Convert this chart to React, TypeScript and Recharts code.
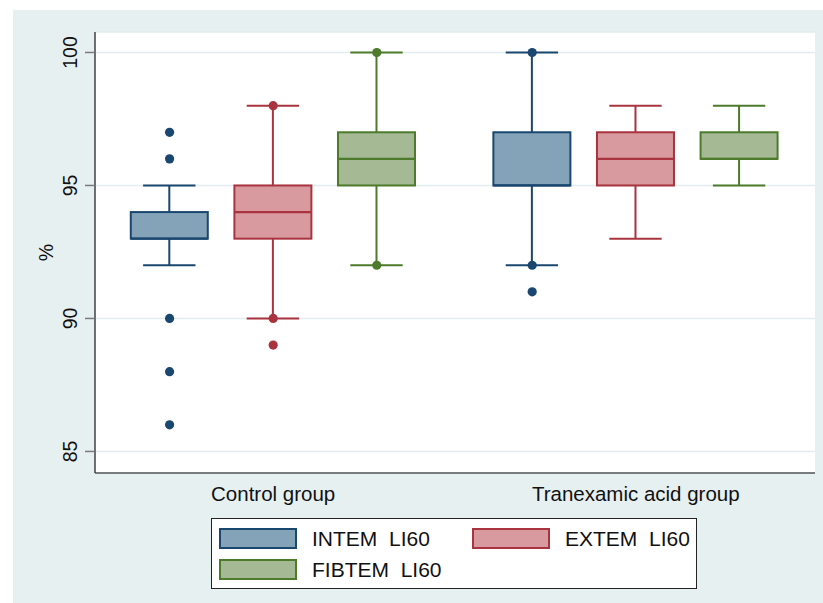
import {
  Bar,
  CartesianGrid,
  ComposedChart,
  Legend,
  Scatter,
  XAxis,
  YAxis,
} from "recharts";

const groups = ["Control group", "Tranexamic acid group"];
const measures = ["INTEM  LI60", "EXTEM  LI60", "FIBTEM  LI60"];

// one value per box: control INTEM, EXTEM, FIBTEM, then tranexamic INTEM, EXTEM, FIBTEM
const whiskerLow = [92, 90, 92, 92, 93, 95];
const q1 = [93, 93, 95, 95, 95, 96];
const median = [93, 94, 96, 95, 96, 96];
const q3 = [94, 95, 97, 97, 97, 97];
const whiskerHigh = [95, 98, 100, 100, 98, 98];
const outliers = [
  [97, 96, 90, 88, 86],
  [98, 90, 89],
  [100, 92],
  [100, 92, 91],
  [],
  [],
];
const yTicks = [85, 90, 95, 100];

const STROKE = ["#1a476f", "#a9343f", "#4d7a2b"];
const FILL = ["#84a3b8", "#d89a9e", "#a5b995"];
const FONT = "'Liberation Sans', Arial, sans-serif";
const INK = "#111";

// slot on the x axis: boxes one unit apart, groups separated by an extra half unit
const slot = (i: number) => 1 + (i % 3) + Math.floor(i / 3) * 3.5;

const boxes = whiskerLow.map((lo, i) => ({
  x: slot(i),
  m: i % 3,
  range: [lo, whiskerHigh[i]],
  lo,
  q1: q1[i],
  med: median[i],
  q3: q3[i],
  hi: whiskerHigh[i],
}));

const dots = measures.map((_, m) =>
  boxes.flatMap((b, i) => (b.m === m ? outliers[i].map((v) => ({ x: b.x, y: v })) : []))
);

const groupTicks = groups.map((_, g) => slot(g * 3 + 1));

function BoxShape(props: any) {
  const { x, y, width, height, payload } = props;
  const top = Math.min(y, y + height);
  const h = Math.abs(height);
  const py = (v: number) => top + ((payload.hi - v) / (payload.hi - payload.lo)) * h;
  const cx = x + width / 2;
  const cap = width * 0.34;
  const stroke = STROKE[payload.m];
  return (
    <g>
      <line x1={cx} x2={cx} y1={py(payload.hi)} y2={py(payload.q3)} stroke={stroke} strokeWidth={2} />
      <line x1={cx} x2={cx} y1={py(payload.q1)} y2={py(payload.lo)} stroke={stroke} strokeWidth={2} />
      <line x1={cx - cap} x2={cx + cap} y1={py(payload.hi)} y2={py(payload.hi)} stroke={stroke} strokeWidth={2} />
      <line x1={cx - cap} x2={cx + cap} y1={py(payload.lo)} y2={py(payload.lo)} stroke={stroke} strokeWidth={2} />
      <rect
        x={x}
        y={py(payload.q3)}
        width={width}
        height={py(payload.q1) - py(payload.q3)}
        fill={FILL[payload.m]}
        stroke={stroke}
        strokeWidth={2}
      />
      <line x1={x} x2={x + width} y1={py(payload.med)} y2={py(payload.med)} stroke={stroke} strokeWidth={2.2} />
    </g>
  );
}

function YTick(props: any) {
  const { x, y, payload } = props;
  const cx = x - 13;
  return (
    <text
      x={cx}
      y={y + 7}
      transform={`rotate(-90, ${cx}, ${y})`}
      textAnchor="middle"
      fontFamily={FONT}
      fontSize={19.5}
      fill={INK}
    >
      {payload.value}
    </text>
  );
}

function XTick(props: any) {
  const { x, y, payload } = props;
  const g = groupTicks.indexOf(payload.value);
  return (
    <text x={x} y={y + 20} textAnchor="middle" fontFamily={FONT} fontSize={20.5} fill={INK}>
      {groups[g]}
    </text>
  );
}

function LegendBox() {
  const items = [
    { m: 0, left: 7, top: 9, text: 20.5 },
    { m: 1, left: 260, top: 9, text: 20.5 },
    { m: 2, left: 7, top: 40, text: 52 },
  ];
  return (
    <div
      style={{
        position: "relative",
        width: 486,
        height: 71,
        boxSizing: "border-box",
        border: "1px solid #222",
        background: "#fff",
        fontFamily: FONT,
        fontSize: 21,
        color: INK,
      }}
    >
      {items.map((it) => (
        <div key={it.m}>
          <div
            style={{
              position: "absolute",
              left: it.left,
              top: it.top,
              width: 78,
              height: 21,
              boxSizing: "border-box",
              border: `2px solid ${STROKE[it.m]}`,
              background: FILL[it.m],
            }}
          />
          <div
            style={{
              position: "absolute",
              left: it.left + 93,
              top: it.text - 13,
              lineHeight: "24px",
              whiteSpace: "pre",
            }}
          >
            {measures[it.m]}
          </div>
        </div>
      ))}
    </div>
  );
}

export default function App() {
  return (
    <div style={{ position: "absolute", left: 0, top: 0, width: 823, height: 603, background: "#fff" }}>
      <div
        style={{ position: "absolute", left: 13, top: 10, width: 810, height: 593, background: "#e6f0f1" }}
      />
      <div style={{ position: "absolute", left: 0, top: 0 }}>
        <ComposedChart
          width={823}
          height={603}
          data={boxes}
          margin={{ top: 32, right: 8, left: 0, bottom: 90 }}
        >
          <CartesianGrid vertical={false} fill="#fff" stroke="#e1ecee" strokeWidth={1.5} />
          <XAxis
            type="number"
            dataKey="x"
            domain={[0.28, 7.23]}
            allowDataOverflow
            ticks={groupTicks}
            tickLine={false}
            axisLine={{ stroke: "#555", strokeWidth: 1.5 }}
            height={40}
            tick={<XTick />}
          />
          <YAxis
            type="number"
            domain={[84.19, 100.77]}
            allowDataOverflow
            ticks={yTicks}
            width={95}
            tickSize={10}
            tickLine={{ stroke: "#7a7a7a", strokeWidth: 1.5 }}
            axisLine={{ stroke: "#404040", strokeWidth: 1.5 }}
            tick={<YTick />}
            label={{
              content: ({ viewBox }: any) => {
                const cy = viewBox.y + viewBox.height / 2;
                return (
                  <text
                    x={46}
                    y={cy + 7}
                    transform={`rotate(-90, 46, ${cy})`}
                    textAnchor="middle"
                    fontFamily={FONT}
                    fontSize={19.5}
                    fill={INK}
                  >
                    %
                  </text>
                );
              },
            }}
          />
          <Bar dataKey="range" barSize={77} shape={<BoxShape />} isAnimationActive={false} />
          {dots.map((d, m) => (
            <Scatter
              key={m}
              data={d}
              dataKey="y"
              isAnimationActive={false}
              shape={(p: any) => <circle cx={p.cx} cy={p.cy} r={4.6} fill={STROKE[m]} />}
            />
          ))}
          <Legend
            layout="horizontal"
            verticalAlign="middle"
            align="center"
            content={() => <LegendBox />}
            wrapperStyle={{ left: 211, top: 518, width: 486, height: 71 }}
          />
        </ComposedChart>
      </div>
    </div>
  );
}
